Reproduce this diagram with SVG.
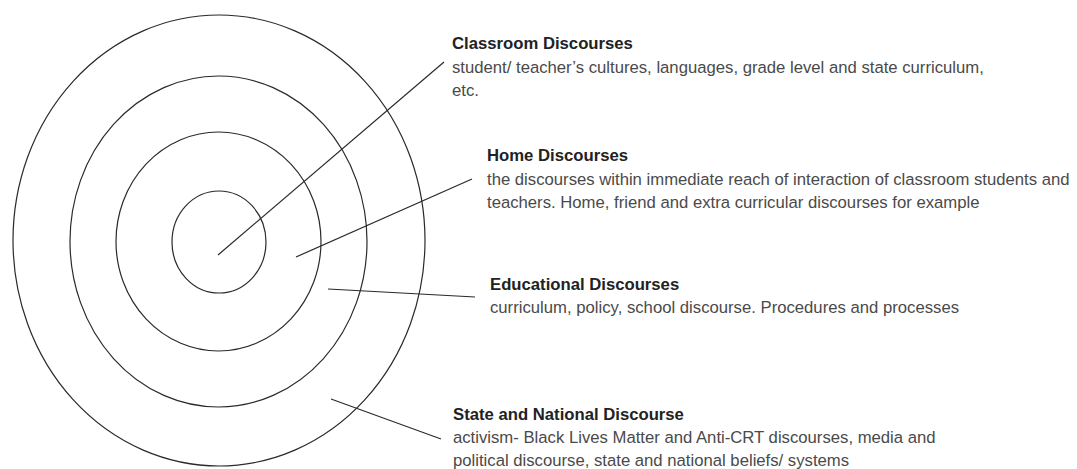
<svg xmlns="http://www.w3.org/2000/svg" width="1077" height="469" viewBox="0 0 1077 469">
  <style>
    .ring { fill: none; stroke: #2a2a2a; stroke-width: 1.2; }
    .leader { fill: none; stroke: #2a2a2a; stroke-width: 1.2; }
    .title { font-family: "Liberation Sans", Arial, sans-serif; font-size: 16.7px; font-weight: bold; fill: #222; }
    .body { font-family: "Liberation Sans", Arial, sans-serif; font-size: 16.7px; fill: #4a4a4a; }
  </style>
  <rect width="1077" height="469" fill="#ffffff"/>

  <!-- concentric discourse rings -->
  <g id="rings">
    <ellipse id="ring-state" class="ring" cx="219" cy="240.5" rx="206" ry="225.5"/>
    <ellipse id="ring-educational" class="ring" cx="218.5" cy="241.5" rx="148.5" ry="165.5"/>
    <ellipse id="ring-home" class="ring" cx="218.5" cy="241.5" rx="102.5" ry="109.5"/>
    <ellipse id="ring-classroom" class="ring" cx="219" cy="242" rx="47" ry="51"/>
  </g>

  <!-- leader lines from rings to labels -->
  <g id="connectors">
    <line class="leader" x1="218" y1="255" x2="444" y2="62"/>
    <line class="leader" x1="296" y1="257" x2="472" y2="179"/>
    <line class="leader" x1="328" y1="289" x2="475" y2="297"/>
    <line class="leader" x1="331" y1="399" x2="441" y2="439"/>
  </g>

  <g id="label-classroom">
    <text class="title" x="452" y="49">Classroom Discourses</text>
    <text class="body" x="452" y="72.5">student/ teacher’s cultures, languages, grade level and state curriculum,</text>
    <text class="body" x="452" y="96">etc.</text>
  </g>

  <g id="label-home">
    <text class="title" x="487" y="161">Home Discourses</text>
    <text class="body" x="487" y="184.5">the discourses within immediate reach of interaction of classroom students and</text>
    <text class="body" x="487" y="208">teachers. Home, friend and extra curricular discourses for example</text>
  </g>

  <g id="label-educational">
    <text class="title" x="490" y="290">Educational Discourses</text>
    <text class="body" x="490" y="313">curriculum, policy, school discourse. Procedures and processes</text>
  </g>

  <g id="label-state">
    <text class="title" x="453" y="420">State and National Discourse</text>
    <text class="body" x="453" y="443">activism- Black Lives Matter and Anti-CRT discourses, media and</text>
    <text class="body" x="453" y="466">political discourse, state and national beliefs/ systems</text>
  </g>
</svg>
